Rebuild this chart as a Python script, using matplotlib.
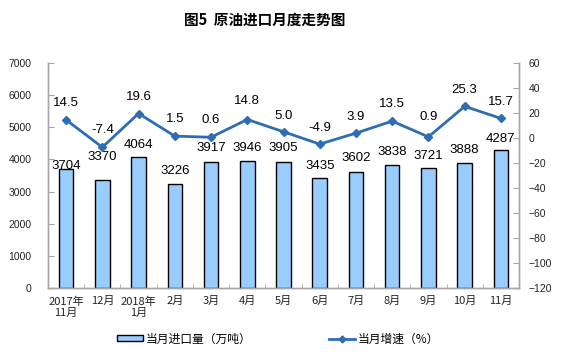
import matplotlib
matplotlib.use("Agg")
import matplotlib.pyplot as plt
from matplotlib.lines import Line2D
from matplotlib.patches import Patch
import numpy as np

plt.rcParams['font.family'] = ['Noto Sans CJK SC', 'DejaVu Sans']

categories = ["2017年\n11月", "12月", "2018年\n1月", "2月", "3月", "4月", "5月",
              "6月", "7月", "8月", "9月", "10月", "11月"]
imports = [3704, 3370, 4064, 3226, 3917, 3946, 3905, 3435, 3602, 3838, 3721, 3888, 4287]
growth = [14.5, -7.4, 19.6, 1.5, 0.6, 14.8, 5.0, -4.9, 3.9, 13.5, 0.9, 25.3, 15.7]
growth_labels = ["14.5", "-7.4", "19.6", "1.5", "0.6", "14.8", "5.0", "-4.9", "3.9",
                 "13.5", "0.9", "25.3", "15.7"]

# label offsets (pixels, style only)
bar_dy = [3, 23, 12, 13, 14, 13, 14, 12, 14, 13, 12, 13, 11]
line_dy = [17, 17, 16, 17, 17, 18, 16, 16, 16, 17, 20, 16, 16]

BAR = '#99CCFF'
LINE = '#2E6DB6'
SPINE = '#A6A6A6'
px2pt = 72 / 100

fig = plt.figure(figsize=(5.61, 3.57), dpi=100)
ax = fig.add_axes([48/561, 1-288/357, (519-48)/561, (288-63)/357])
ax2 = ax.twinx()

x = np.arange(len(categories))
ax.bar(x, imports, width=0.4, color=BAR, edgecolor='black', linewidth=1.0, zorder=2)
ax.set_xlim(-0.5, len(categories)-0.5)
ax.set_ylim(0, 7000)
ax.set_yticks(np.arange(0, 7001, 1000))
ax.set_xticks(x)
ax.set_xticklabels(categories, fontsize=8, linespacing=1.1)
ax.set_xticks(np.arange(-0.5, len(categories), 1), minor=True)
ax.tick_params(axis='x', which='major', length=0, pad=6, colors='#222222')
ax.tick_params(axis='x', which='minor', length=3, direction='in', color=SPINE)
ax.tick_params(axis='y', length=4, direction='in', color=SPINE, pad=12, labelsize=7.5,
               labelcolor='#222222')
for lab in ax.get_yticklabels():
    lab.set_family(['Liberation Sans', 'DejaVu Sans'])

for xi, v, dy in zip(x, imports, bar_dy):
    ax.annotate(str(v), (xi, v), xytext=(0, dy*px2pt), textcoords='offset points',
                ha='center', va='center', fontsize=9.5,
                family=['Liberation Sans', 'DejaVu Sans'], color='black', zorder=5)

ax2.plot(x, growth, color=LINE, linewidth=2, marker='D', markersize=4.5,
         markerfacecolor=LINE, markeredgecolor=LINE, zorder=4)
ax2.set_ylim(-120, 60)
ax2.set_yticks(np.arange(-120, 61, 20))
ax2.tick_params(axis='y', length=4, direction='in', color=SPINE, pad=7, labelsize=7.5,
                labelcolor='#222222')
for lab in ax2.get_yticklabels():
    lab.set_family(['Liberation Sans', 'DejaVu Sans'])

for xi, v, t, dy in zip(x, growth, growth_labels, line_dy):
    ax2.annotate(t, (xi, v), xytext=(0, dy*px2pt), textcoords='offset points',
                 ha='center', va='center', fontsize=9.5,
                 family=['Liberation Sans', 'DejaVu Sans'], color='black', zorder=5)

for a in (ax, ax2):
    a.spines['top'].set_visible(False)
    for s in ('left', 'right', 'bottom'):
        a.spines[s].set_color(SPINE)
        a.spines[s].set_linewidth(1.0)
ax.patch.set_visible(False)
ax2.set_zorder(ax.get_zorder() + 1)

fig.text(265/561, 1-20/357, "图5  原油进口月度走势图", ha='center', va='center',
         fontsize=10.5, fontweight='bold')

handles = [Patch(facecolor=BAR, edgecolor='black', linewidth=1.0),
           Line2D([0], [0], color=LINE, linewidth=2, marker='D', markersize=3.5)]
fig.legend(handles, ["当月进口量（万吨）", "当月增速（%）"], loc='center',
           bbox_to_anchor=(278/561, 1-339/357), ncol=2, frameon=False, fontsize=8.5,
           handlelength=2.2, handleheight=0.45, handletextpad=0.3, columnspacing=6.5)

fig.savefig("out.png", dpi=100)
